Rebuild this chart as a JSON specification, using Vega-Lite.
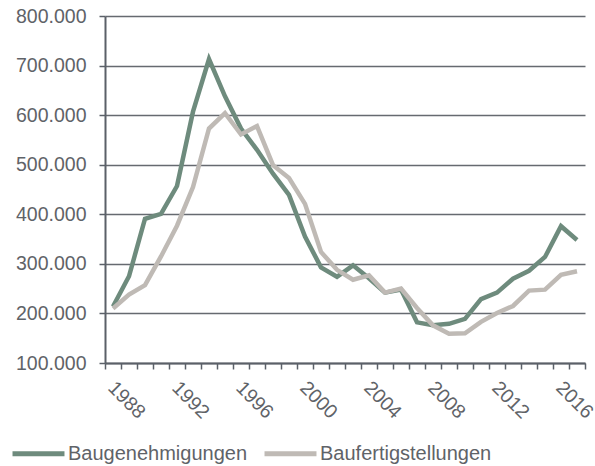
{
  "$schema": "https://vega.github.io/schema/vega-lite/v6.json",
  "width": 480,
  "height": 347,
  "autosize": {"type": "none"},
  "padding": {"left": 105, "top": 16, "right": 10, "bottom": 103},
  "config": {
    "locale": {"number": {"decimal": ",", "thousands": ".", "grouping": [3], "currency": ["", " €"]}},
    "view": {"stroke": null},
    "font": "Liberation Sans"
  },
  "datasets": {
    "raw": [
      {"year": 1988, "Baugenehmigungen": 214000, "Baufertigstellungen": 210000},
      {"year": 1989, "Baugenehmigungen": 275000, "Baufertigstellungen": 238000},
      {"year": 1990, "Baugenehmigungen": 391000, "Baufertigstellungen": 257000},
      {"year": 1991, "Baugenehmigungen": 401000, "Baufertigstellungen": 315000},
      {"year": 1992, "Baugenehmigungen": 457000, "Baufertigstellungen": 377000},
      {"year": 1993, "Baugenehmigungen": 607000, "Baufertigstellungen": 455000},
      {"year": 1994, "Baugenehmigungen": 713000, "Baufertigstellungen": 573000},
      {"year": 1995, "Baugenehmigungen": 638000, "Baufertigstellungen": 604000},
      {"year": 1996, "Baugenehmigungen": 573000, "Baufertigstellungen": 561000},
      {"year": 1997, "Baugenehmigungen": 530000, "Baufertigstellungen": 578000},
      {"year": 1998, "Baugenehmigungen": 482000, "Baufertigstellungen": 499000},
      {"year": 1999, "Baugenehmigungen": 439000, "Baufertigstellungen": 473000},
      {"year": 2000, "Baugenehmigungen": 355000, "Baufertigstellungen": 421000},
      {"year": 2001, "Baugenehmigungen": 293000, "Baufertigstellungen": 324000},
      {"year": 2002, "Baugenehmigungen": 274000, "Baufertigstellungen": 288000},
      {"year": 2003, "Baugenehmigungen": 297000, "Baufertigstellungen": 268000},
      {"year": 2004, "Baugenehmigungen": 271000, "Baufertigstellungen": 277000},
      {"year": 2005, "Baugenehmigungen": 242000, "Baufertigstellungen": 242000},
      {"year": 2006, "Baugenehmigungen": 248000, "Baufertigstellungen": 250000},
      {"year": 2007, "Baugenehmigungen": 182000, "Baufertigstellungen": 211000},
      {"year": 2008, "Baugenehmigungen": 176000, "Baufertigstellungen": 176000},
      {"year": 2009, "Baugenehmigungen": 179000, "Baufertigstellungen": 159000},
      {"year": 2010, "Baugenehmigungen": 189000, "Baufertigstellungen": 160000},
      {"year": 2011, "Baugenehmigungen": 229000, "Baufertigstellungen": 183000},
      {"year": 2012, "Baugenehmigungen": 242000, "Baufertigstellungen": 201000},
      {"year": 2013, "Baugenehmigungen": 270000, "Baufertigstellungen": 215000},
      {"year": 2014, "Baugenehmigungen": 286000, "Baufertigstellungen": 246000},
      {"year": 2015, "Baugenehmigungen": 314000, "Baufertigstellungen": 248000},
      {"year": 2016, "Baugenehmigungen": 376000, "Baufertigstellungen": 278000},
      {"year": 2017, "Baugenehmigungen": 348000, "Baufertigstellungen": 285000}
    ]
  },
  "data": {"name": "raw"},
  "transform": [
    {"fold": ["Baugenehmigungen", "Baufertigstellungen"], "as": ["series", "value"]}
  ],
  "mark": {"type": "line", "strokeWidth": 4.5},
  "encoding": {
    "x": {
      "field": "year",
      "type": "ordinal",
      "scale": {"type": "band", "paddingInner": 0, "paddingOuter": 0},
      "axis": {
        "title": null,
        "tickBand": "extent",
        "labelAngle": 45,
        "labelAlign": "left",
        "labelBaseline": "top",
        "labelOverlap": false,
        "labelExpr": "(datum.value - 1988) % 4 == 0 ? datum.label : ''",
        "domainColor": "#5b6068",
        "domainWidth": 2,
        "tickColor": "#5b6068",
        "tickSize": 6,
        "tickWidth": 1.5,
        "labelFontSize": 19.5,
        "labelColor": "#5f6368",
        "labelPadding": 9,
        "labelOffset": 4
      }
    },
    "y": {
      "field": "value",
      "type": "quantitative",
      "scale": {"domain": [100000, 800000], "nice": false, "zero": false},
      "axis": {
        "title": null,
        "values": [100000, 200000, 300000, 400000, 500000, 600000, 700000, 800000],
        "format": ",d",
        "grid": true,
        "gridColor": "#666a70",
        "gridWidth": 1.6,
        "domainColor": "#5b6068",
        "domainWidth": 2,
        "tickColor": "#5b6068",
        "tickSize": 6,
        "tickWidth": 1.5,
        "labelFontSize": 19.5,
        "labelColor": "#5f6368",
        "labelPadding": 13
      }
    },
    "color": {
      "field": "series",
      "type": "nominal",
      "sort": ["Baugenehmigungen", "Baufertigstellungen"],
      "scale": {"domain": ["Baugenehmigungen", "Baufertigstellungen"], "range": ["#6e8b7d", "#bfbab5"]},
      "legend": {
        "title": null,
        "orient": "none",
        "direction": "horizontal",
        "legendX": -95,
        "legendY": 409,
        "symbolType": "stroke",
        "symbolSize": 2700,
        "symbolStrokeWidth": 5,
        "labelFontSize": 20,
        "labelLimit": 400,
        "labelColor": "#5f6368",
        "columnPadding": 6,
        "labelOffset": 1
      }
    }
  }
}
